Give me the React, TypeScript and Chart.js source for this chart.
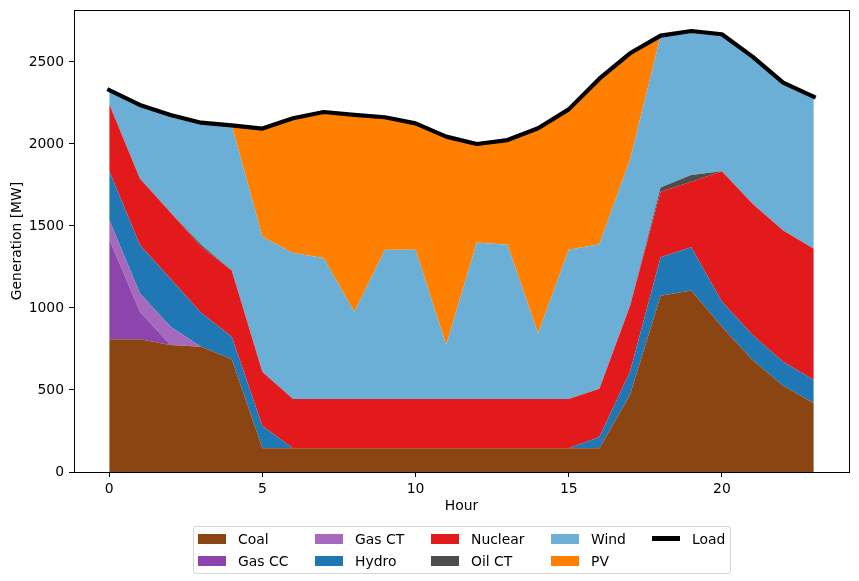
import React, { useEffect, useRef } from "react";
import { Chart, registerables } from "chart.js";

Chart.register(...registerables);

const hours = [0, 1, 2, 3, 4, 5, 6, 7, 8, 9, 10, 11, 12, 13, 14, 15, 16, 17, 18, 19, 20, 21, 22, 23];
const coal = [809, 809, 774, 764, 687, 145, 145, 145, 145, 145, 145, 145, 145, 145, 145, 145, 145, 470, 1075, 1106, 886, 683, 526, 419];
const gasCC = [610, 168, 0, 0, 0, 0, 0, 0, 0, 0, 0, 0, 0, 0, 0, 0, 0, 0, 0, 0, 0, 0, 0, 0];
const gasCT = [118, 113, 112, 0, 0, 0, 0, 0, 0, 0, 0, 0, 0, 0, 0, 0, 0, 0, 0, 0, 0, 0, 0, 0];
const hydro = [300, 294, 293, 207, 138, 135, 0, 0, 0, 0, 0, 0, 0, 0, 0, 0, 68, 142, 234, 264, 153, 152, 147, 142];
const nuclear = [405, 405, 403, 403, 403, 330, 300, 300, 300, 300, 300, 300, 300, 300, 300, 300, 295, 400, 400, 400, 795, 800, 800, 800];
const oilCT = [0, 0, 0, 12, 0, 0, 0, 0, 0, 0, 0, 0, 0, 0, 0, 0, 0, 0, 26, 41, 0, 0, 0, 0];
const wind = [78, 446, 597, 742, 887, 825, 890, 860, 530, 910, 910, 330, 955, 940, 400, 910, 880, 890, 925, 878, 835, 898, 900, 927];
const pv = [0, 0, 0, 0, 0, 660, 820, 890, 1200, 810, 770, 1270, 600, 640, 1250, 855, 1010, 650, 0, 0, 0, 0, 0, 0];
const load = [2329, 2238, 2177, 2130, 2114, 2094, 2157, 2195, 2177, 2163, 2126, 2045, 2000, 2024, 2096, 2211, 2398, 2553, 2661, 2689, 2669, 2533, 2374, 2288];

const xTicks = [0, 5, 10, 15, 20];
const yTicks = [0, 500, 1000, 1500, 2000, 2500];

const seriesNames = ["Coal", "Gas CC", "Gas CT", "Hydro", "Nuclear", "Oil CT", "Wind", "PV"];
const seriesValues = [coal, gasCC, gasCT, hydro, nuclear, oilCT, wind, pv];
const seriesColors = ["#8B4513", "#8E44AD", "#A569BD", "#1F78B4", "#E31A1C", "#4D4D4D", "#6BAED6", "#FF7F00"];

const FONT = "'DejaVu Sans', sans-serif";
const FS = 13.9;

// legend layout (column-major as in the original)
const legendItems = [
  { label: "Coal", color: "#8B4513", type: "patch", col: 0, row: 0 },
  { label: "Gas CC", color: "#8E44AD", type: "patch", col: 0, row: 1 },
  { label: "Gas CT", color: "#A569BD", type: "patch", col: 1, row: 0 },
  { label: "Hydro", color: "#1F78B4", type: "patch", col: 1, row: 1 },
  { label: "Nuclear", color: "#E31A1C", type: "patch", col: 2, row: 0 },
  { label: "Oil CT", color: "#4D4D4D", type: "patch", col: 2, row: 1 },
  { label: "Wind", color: "#6BAED6", type: "patch", col: 3, row: 0 },
  { label: "PV", color: "#FF7F00", type: "patch", col: 3, row: 1 },
  { label: "Load", color: "#000000", type: "line", col: 4, row: 0 },
];
const colX = [198, 315, 431, 551, 652];
const rowY = [538.5, 560.5];

export default function App() {
  const ref = useRef<HTMLCanvasElement>(null);

  useEffect(() => {
    if (!ref.current) return;
    const frame = {
      id: "frame",
      afterDatasetsDraw(chart: any) {
        const { ctx, chartArea: a } = chart;
        ctx.save();
        ctx.strokeStyle = "#000";
        ctx.lineWidth = 1;
        const l = Math.round(a.left) + 0.5;
        const t = Math.round(a.top) + 0.5;
        const r = Math.round(a.right) + 0.5;
        const b = Math.round(a.bottom) + 0.5;
        ctx.strokeRect(l, t, r - l, b - t);
        ctx.restore();
      },
    };

    const datasets: any[] = seriesNames.map((name, i) => ({
      label: name,
      data: hours.map((h, j) => ({ x: h, y: seriesValues[i][j] })),
      backgroundColor: seriesColors[i],
      borderColor: seriesColors[i],
      borderWidth: 0,
      fill: i === 0 ? "origin" : "-1",
      pointRadius: 0,
      tension: 0,
      stack: "gen",
      order: 1,
    }));
    datasets.push({
      label: "Load",
      data: hours.map((h, j) => ({ x: h, y: load[j] })),
      borderColor: "#000",
      backgroundColor: "#000",
      borderWidth: 4.2,
      borderCapStyle: "square",
      borderJoinStyle: "round",
      fill: false,
      pointRadius: 0,
      tension: 0,
      stack: "load",
      order: 0,
    });

    const font = { family: FONT, size: FS };
    const chart = new Chart(ref.current, {
      type: "line",
      data: { datasets },
      plugins: [frame],
      options: {
        animation: false,
        responsive: false,
        devicePixelRatio: 1,
        layout: { padding: { left: 0, top: 10, right: 10, bottom: 66 } },
        plugins: { legend: { display: false }, tooltip: { enabled: false } },
        scales: {
          x: {
            type: "linear",
            min: -1.15,
            max: 24.15,
            afterBuildTicks: (s: any) => {
              s.ticks = xTicks.map((v) => ({ value: v }));
            },
            afterFit: (s: any) => {
              s.height = 43;
              s.paddingLeft = 0;
              s.paddingRight = 0;
              s.paddingTop = 0;
              s.paddingBottom = 0;
            },
            ticks: { color: "#000", font, padding: 4, maxRotation: 0, autoSkip: false, callback: (v: any) => String(v) },
            grid: { drawOnChartArea: false, drawTicks: true, tickLength: 5, color: "#000" },
            border: { display: false },
            title: { display: true, text: "Hour", color: "#000", font, padding: { top: 0, bottom: 0 } },
          },
          y: {
            type: "linear",
            stacked: true,
            min: 0,
            max: 2817,
            afterBuildTicks: (s: any) => {
              s.ticks = yTicks.map((v) => ({ value: v }));
            },
            afterFit: (s: any) => {
              s.width = 74;
              s.paddingLeft = 0;
              s.paddingRight = 0;
              s.paddingTop = 0;
              s.paddingBottom = 0;
            },
            ticks: { color: "#000", font, padding: 5, callback: (v: any) => String(v) },
            grid: { drawOnChartArea: false, drawTicks: true, tickLength: 5, color: "#000" },
            border: { display: false },
            title: { display: true, text: "Generation [MW]", color: "#000", font, padding: { top: 9, bottom: 0 } },
          },
        },
      } as any,
    });
    return () => chart.destroy();
  }, []);

  return (
    <div style={{ position: "fixed", left: 0, top: 0, width: 859, height: 581, background: "#fff" }}>
      <canvas ref={ref} width={859} height={581} style={{ display: "block", width: 859, height: 581 }} />
      <div
        style={{
          position: "absolute",
          left: 193,
          top: 526,
          width: 538,
          height: 48,
          border: "1px solid rgba(204,204,204,0.8)",
          borderRadius: 3,
          boxSizing: "border-box",
          background: "rgba(255,255,255,0.8)",
        }}
      />
      {legendItems.map((it) => {
        const x = colX[it.col];
        const y = rowY[it.row];
        return (
          <React.Fragment key={it.label}>
            {it.type === "patch" ? (
              <div style={{ position: "absolute", left: x, top: y - 5, width: 28, height: 10, background: it.color }} />
            ) : (
              <div style={{ position: "absolute", left: x, top: y - 2.1, width: 28, height: 4.2, background: it.color }} />
            )}
            <div
              style={{
                position: "absolute",
                left: x + 40,
                top: y - 10,
                height: 20,
                lineHeight: "20px",
                fontFamily: FONT,
                fontSize: FS,
                color: "#000",
                whiteSpace: "nowrap",
              }}
            >
              {it.label}
            </div>
          </React.Fragment>
        );
      })}
    </div>
  );
}
